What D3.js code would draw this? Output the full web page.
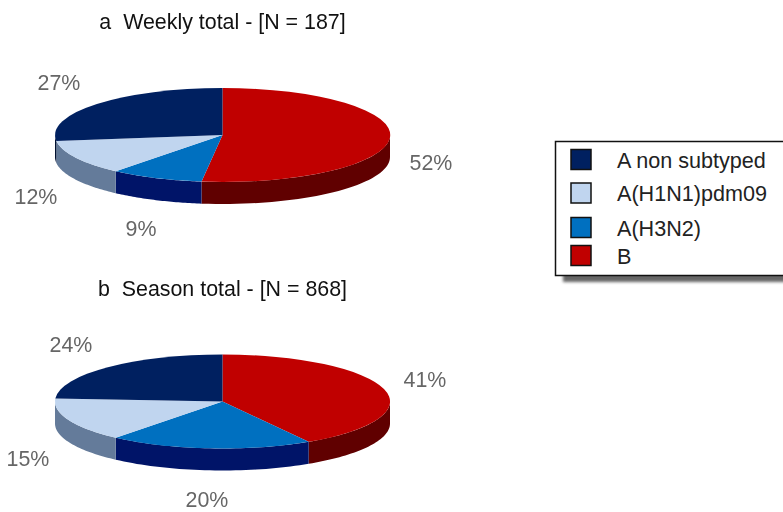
<!DOCTYPE html>
<html>
<head>
<meta charset="utf-8">
<script src="https://cdn.jsdelivr.net/npm/d3@7"></script>
<style>
body { margin: 0; background: #fff; overflow: hidden; }
svg { filter: blur(0.4px); }
text { font-family: "Liberation Sans", Arial, sans-serif; }
</style>
</head>
<body>
<svg width="783" height="512">
    <defs><filter id="soft" x="-5%" y="-10%" width="110%" height="120%"><feGaussianBlur stdDeviation="1.5"></feGaussianBlur></filter></defs>
</svg>
<script>
// data
var categories = ['B', 'A(H3N2)', 'A(H1N1)pdm09', 'A non subtyped'];
var weeklyValues = [52, 9, 12, 27];
var seasonValues = [41.4, 19.6, 15, 24];
var weeklyTitle = 'a  Weekly total - [N = 187]';
var seasonTitle = 'b  Season total - [N = 868]';
var legendOrder = ['A non subtyped', 'A(H1N1)pdm09', 'A(H3N2)', 'B'];

var topColor = d3.scaleOrdinal().domain(categories).range(['#c00000', '#0070c0', '#c0d5ef', '#002060']);
var wallColor = d3.scaleOrdinal().domain(categories).range(['#600000', '#001468', '#647b9a', '#001030']);

var svg = d3.select('svg');

var rx = 167.5, ry = 47, depth = 22;
var pie = d3.pie().sort(null).value(function(d){ return d; });

function drawPie(values, cx, cy, title, titleY, labelPos){
    var slices = pie(values);
    var g = svg.append('g').attr('transform', 'translate(' + cx + ',' + cy + ')');

    // ellipse point for a clockwise-from-top angle
    var line = d3.line()
        .x(function(p){ return rx * Math.sin(p[0]); })
        .y(function(p){ return -ry * Math.cos(p[0]) + p[1]; });

    // side walls: only the front half of the rim shows
    slices.forEach(function(s, i){
        var a0 = Math.max(s.startAngle, Math.PI / 2);
        var a1 = Math.min(s.endAngle, Math.PI * 1.5);
        if(a1 <= a0) return;
        var n = 40, pts = [];
        d3.range(n + 1).forEach(function(k){ pts.push([a0 + (a1 - a0) * k / n, 0]); });
        d3.range(n + 1).forEach(function(k){ pts.push([a1 - (a1 - a0) * k / n, depth]); });
        g.append('path')
            .attr('d', line(pts) + 'Z')
            .attr('fill', wallColor(categories[i]));
    });

    // top face
    var arc = d3.arc().innerRadius(0).outerRadius(1);
    g.append('g')
        .attr('transform', 'scale(' + rx + ',' + ry + ')')
        .selectAll('path')
        .data(slices)
        .enter()
        .append('path')
        .attr('d', arc)
        .attr('fill', function(d, i){ return topColor(categories[i]); });

    svg.append('text')
        .text(title)
        .attr('x', 222.5)
        .attr('y', titleY)
        .attr('text-anchor', 'middle')
        .attr('font-size', 21.4)
        .attr('fill', '#111')
        .style('white-space', 'pre');

    slices.forEach(function(s, i){
        svg.append('text')
            .text(Math.round(s.value) + '%')
            .attr('x', labelPos[i][0])
            .attr('y', labelPos[i][1])
            .attr('text-anchor', 'middle')
            .attr('font-size', 21.4)
            .attr('fill', '#666');
    });
}

drawPie(weeklyValues, 222.5, 135, weeklyTitle, 29, [[431, 170], [141, 236], [36, 204], [59, 90]]);
drawPie(seasonValues, 222.5, 401.5, seasonTitle, 296, [[425, 387], [207, 507], [28, 466], [71, 352]]);

// legend
var legendY = [159.5, 193, 227.5, 255.5];
var legend = svg.append('g');
legend.append('rect')
    .attr('x', 563).attr('y', 148)
    .attr('width', 240).attr('height', 134)
    .attr('fill', '#666')
    .attr('filter', 'url(#soft)');
legend.append('rect')
    .attr('x', 555.5).attr('y', 141.5)
    .attr('width', 240).attr('height', 134)
    .attr('fill', '#fff')
    .attr('stroke', '#111')
    .attr('stroke-width', 1.5);

legendOrder.forEach(function(name, i){
    legend.append('rect')
        .attr('x', 571).attr('y', legendY[i] - 10)
        .attr('width', 20).attr('height', 20)
        .attr('fill', topColor(name))
        .attr('stroke', '#111')
        .attr('stroke-width', 1.5);
    legend.append('text')
        .text(name)
        .attr('x', 617)
        .attr('y', legendY[i] + 8)
        .attr('font-size', 21.6)
        .attr('fill', '#222');
});
</script>
</body>
</html>
